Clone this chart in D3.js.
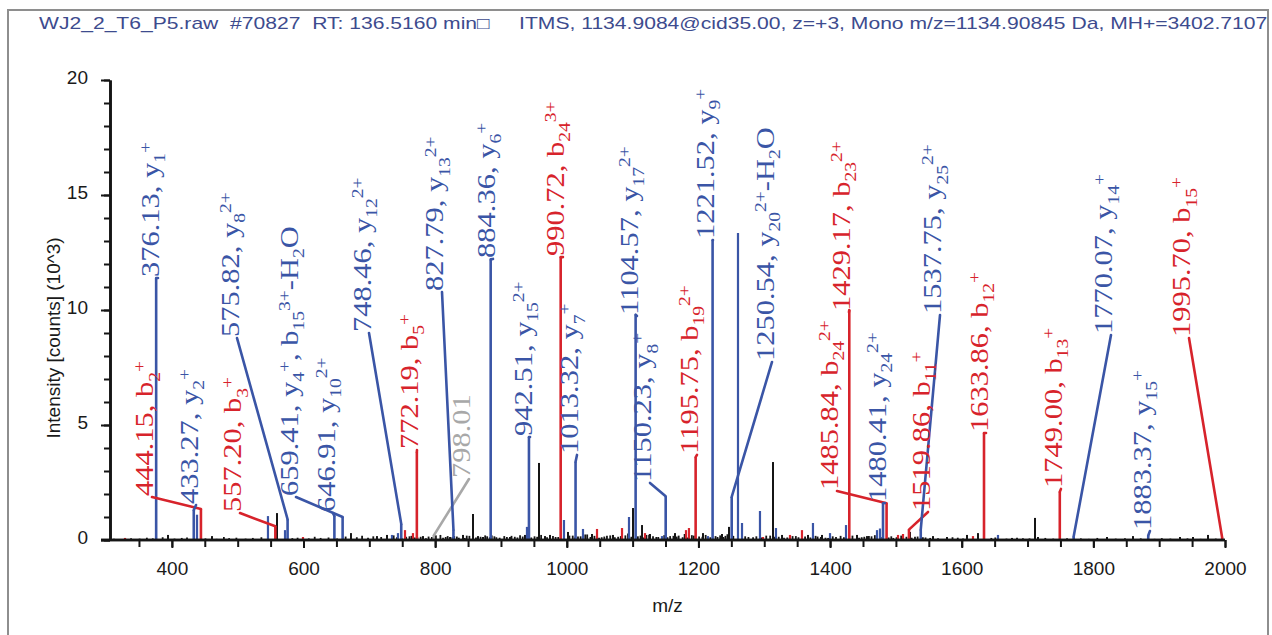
<!DOCTYPE html>
<html>
<head>
<meta charset="utf-8">
<script src="https://cdn.jsdelivr.net/npm/d3@7"></script>
<style>
  body { margin: 0; background: #fff; }
  svg { display: block; }
</style>
</head>
<body>
<svg id="chart" width="1272" height="635"></svg>
<script>
// ---------------- DATA ----------------
const titleText = "WJ2_2_T6_P5.raw  #70827  RT: 136.5160 min\u25A1     ITMS, 1134.9084@cid35.00, z=+3, Mono m/z=1134.90845 Da, MH+=3402.71079";
const xAxisTitle = "m/z";
const yAxisTitle = "Intensity [counts] (10^3)";
const xTickLabels = [400, 600, 800, 1000, 1200, 1400, 1600, 1800, 2000];
const yTickLabels = [0, 5, 10, 15, 20];

// annotated fragment ions
const ionMz = [376.13, 444.15, 433.27, 557.20, 575.82, 659.41, 646.91, 748.46, 772.19, 798.01,
  827.79, 884.36, 942.51, 990.72, 1013.32, 1104.57, 1150.23, 1195.75, 1221.52, 1250.54,
  1429.17, 1485.84, 1480.41, 1519.86, 1537.75, 1633.86, 1749.00, 1770.07, 1883.37, 1995.70];
const ionIntensity = [11.39, 1.35, 1.30, 0.60, 0.90, 1.00, 1.05, 0.70, 3.83, 0.20,
  0.45, 12.20, 4.48, 12.30, 3.40, 9.80, 1.90, 3.60, 13.04, 1.87,
  10.00, 1.60, 1.60, 0.45, 0.45, 4.65, 2.10, 0.15, 0.20, 0.10];
const ionKind = ['y','b','y','b','y','y','y','y','b','u',
  'y','y','y','b','y','y','y','b','y','y',
  'b','b','y','b','y','b','b','y','y','b'];
const ionLabel = ["376.13, y_{1}^{+}", "444.15, b_{2}^{+}", "433.27, y_{2}^{+}", "557.20, b_{3}^{+}",
  "575.82, y_{8}^{2+}", "659.41, y_{4}^{+}, b_{15}^{3+}-H_{2}O", "646.91, y_{10}^{2+}",
  "748.46, y_{12}^{2+}", "772.19, b_{5}^{+}", "798.01", "827.79, y_{13}^{2+}", "884.36, y_{6}^{+}",
  "942.51, y_{15}^{2+}", "990.72, b_{24}^{3+}", "1013.32, y_{7}^{+}", "1104.57, y_{17}^{2+}",
  "1150.23, y_{8}^{+}", "1195.75, b_{19}^{2+}", "1221.52, y_{9}^{+}", "1250.54, y_{20}^{2+}-H_{2}O",
  "1429.17, b_{23}^{2+}", "1485.84, b_{24}^{2+}", "1480.41, y_{24}^{2+}", "1519.86, b_{11}^{+}",
  "1537.75, y_{25}^{2+}", "1633.86, b_{12}^{+}", "1749.00, b_{13}^{+}", "1770.07, y_{14}^{+}",
  "1883.37, y_{15}^{+}", "1995.70, b_{15}^{+}"];
// where each label starts (in data units, m/z and intensity)
const labelMz = [378.9, 369.8, 436.7, 503.5, 499.0, 588.6, 644.8, 699.5, 772.4, 851.4,
  810.4, 887.9, 944.1, 994.2, 1015.5, 1106.6, 1126.4, 1197.8, 1222.1, 1311.8,
  1428.7, 1410.5, 1483.4, 1548.8, 1567.0, 1636.9, 1750.8, 1826.8, 1886.0, 1945.3];
const labelIntensity = [11.39, 1.87, 1.52, 1.17, 8.78, 1.87, 1.17, 9.00, 3.91, 2.65,
  10.78, 12.22, 4.48, 12.30, 3.70, 9.74, 2.48, 3.70, 13.04, 7.74,
  9.91, 2.13, 1.61, 1.22, 9.78, 4.65, 2.22, 8.91, 0.39, 8.78];

// unannotated peaks
const blackMz = [394.1, 461.0, 559.7, 672.1, 711.6, 726.8, 781.5, 801.0, 822.6, 842.3, 857.5, 865.1,
  872.7, 913.7, 936.5, 957.8, 966.9, 974.5, 1001.8, 1038.3, 1070.2, 1100.6, 1114.3, 1126.4,
  1164.4, 1206.9, 1235.8, 1246.4, 1313.3, 1327.0, 1366.5, 1387.7, 1440.9, 1456.1, 1521.4,
  1556.4, 1577.6, 1608.0, 1624.7, 1676.4, 1711.3, 1715.9, 1820.7, 1860.2, 1931.6, 1951.4, 1974.2];
const blackIntensity = [0.22, 0.17, 1.17, 0.30, 0.17, 0.22, 0.17, 0.20, 0.13, 0.22, 1.13, 0.17,
  0.13, 0.13, 0.22, 3.35, 0.17, 0.22, 0.35, 0.26, 0.22, 1.39, 0.65, 0.26,
  0.30, 0.30, 0.26, 0.57, 3.39, 0.22, 0.22, 0.22, 0.22, 0.17, 0.35,
  0.17, 0.13, 0.22, 0.30, 0.09, 0.96, 0.13, 0.13, 0.17, 0.13, 0.13, 0.22];
const blueMz = [438.2, 546.0, 571.9, 734.4, 743.5, 939.5, 995.7, 1024.6, 1094.5, 1144.6, 1214.5,
  1260.1, 1266.2, 1293.5, 1317.8, 1374.0, 1399.9, 1424.2, 1471.3, 1475.8, 1655.1];
const blueIntensity = [1.10, 1.04, 0.43, 0.22, 0.30, 0.57, 0.87, 0.48, 1.00, 0.17, 0.17,
  13.35, 0.74, 1.26, 0.52, 0.74, 0.30, 0.65, 0.43, 0.50, 0.22];
const redMz = [328.8, 599.2, 754.2, 766.3, 1045.9, 1083.9, 1118.8, 1181.1, 1185.6, 1298.1,
  1339.1, 1357.3, 1503.2, 1510.8, 1617.1];
const redIntensity = [0.09, 0.13, 0.43, 0.30, 0.48, 0.52, 0.30, 0.43, 0.52, 0.13,
  0.22, 0.43, 0.22, 0.26, 0.17];
const noiseMz = [312, 338, 351, 362, 371, 386, 404, 415, 423, 451,
  468, 479, 487, 498, 512, 523, 536, 583, 591, 608,
  617, 626, 638, 651, 664, 681, 689, 698, 706, 718,
  737, 756, 764, 773, 790, 808, 816, 829, 836, 848,
  879, 886, 893, 905, 921, 929, 946, 951, 983, 1009,
  1017, 1031, 1053, 1061, 1078, 1089, 1108, 1121, 1139, 1157,
  1170, 1176, 1190, 1201, 1229, 1241, 1271, 1283, 1303, 1322,
  1335, 1348, 1381, 1393, 1409, 1416, 1448, 1463, 1496, 1529,
  1545, 1564, 1586, 1594, 1602, 1645, 1651, 1668, 1684, 1693,
  1703, 1727, 1739, 1760, 1781, 1793, 1806, 1834, 1848, 1872,
  1893, 1904, 1917, 1943, 1963, 1986];
const noiseIntensity = [0.05, 0.08, 0.06, 0.10, 0.07, 0.12, 0.06, 0.09, 0.11, 0.07,
  0.05, 0.13, 0.08, 0.10, 0.06, 0.09, 0.12, 0.08, 0.10, 0.07,
  0.14, 0.09, 0.11, 0.06, 0.15, 0.12, 0.18, 0.10, 0.16, 0.13,
  0.20, 0.14, 0.18, 0.12, 0.15, 0.22, 0.13, 0.17, 0.10, 0.19,
  0.16, 0.20, 0.12, 0.17, 0.14, 0.21, 0.11, 0.16, 0.13, 0.19,
  0.15, 0.24, 0.12, 0.18, 0.14, 0.20, 0.16, 0.22, 0.13, 0.17,
  0.19, 0.12, 0.21, 0.15, 0.13, 0.18, 0.16, 0.12, 0.19, 0.14,
  0.11, 0.17, 0.15, 0.10, 0.13, 0.18, 0.12, 0.16, 0.09, 0.14,
  0.11, 0.08, 0.12, 0.10, 0.07, 0.09, 0.11, 0.06, 0.10, 0.08,
  0.07, 0.09, 0.06, 0.08, 0.07, 0.05, 0.09, 0.06, 0.08, 0.07,
  0.05, 0.08, 0.06, 0.07, 0.05, 0.06];
const noise2Mz = [742, 749, 761, 769, 778, 786, 795, 812, 819, 826,
  833, 845, 852, 862, 869, 876, 883, 890, 898, 909,
  916, 925, 933, 941, 955, 961, 970, 979, 987, 1004,
  1012, 1021, 1028, 1036, 1042, 1049, 1057, 1066, 1073, 1082,
  1093, 1098, 1112, 1117, 1125, 1131, 1136, 1148, 1153, 1162,
  1167, 1179, 1184, 1193, 1206, 1211, 1218, 1226, 1233, 1238,
  1244, 1253, 1276, 1288, 1296, 1309, 1316, 1330, 1343, 1352,
  1362, 1370, 1378, 1386, 1397, 1404, 1421, 1434, 1444, 1452,
  1459, 1468, 1477, 1489, 1493, 1501, 1508, 1516, 1524, 1533,
  1541, 1552];
const noise2Intensity = [0.12, 0.09, 0.16, 0.11, 0.14, 0.08, 0.13, 0.10, 0.17, 0.12,
  0.15, 0.09, 0.18, 0.11, 0.14, 0.20, 0.12, 0.16, 0.10, 0.13,
  0.18, 0.11, 0.15, 0.09, 0.14, 0.22, 0.12, 0.17, 0.13, 0.19,
  0.11, 0.16, 0.24, 0.13, 0.18, 0.10, 0.15, 0.20, 0.12, 0.17,
  0.28, 0.14, 0.19, 0.11, 0.23, 0.16, 0.13, 0.21, 0.12, 0.18,
  0.15, 0.26, 0.11, 0.19, 0.14, 0.22, 0.12, 0.17, 0.20, 0.13,
  0.25, 0.18, 0.13, 0.16, 0.11, 0.19, 0.14, 0.10, 0.17, 0.12,
  0.15, 0.11, 0.18, 0.13, 0.09, 0.16, 0.12, 0.19, 0.10, 0.14,
  0.17, 0.21, 0.13, 0.11, 0.16, 0.12, 0.19, 0.14, 0.10, 0.15,
  0.12, 0.09];

// ---------------- DRAW ----------------
const BLUE = "#3a55a6", RED = "#d7232b", GREY = "#a8a8a8", INK = "#151515";
const kindColor = { y: BLUE, b: RED, u: GREY };

const svg = d3.select("#chart");
svg.append("rect").attr("width", 1272).attr("height", 635).attr("fill", "#fff");

// frame
svg.append("rect").attr("x", 8).attr("y", 10).attr("width", 1260).attr("height", 640)
  .attr("fill", "none").attr("stroke", "#8e8e8e").attr("stroke-width", 2);

// title (clipped by the frame)
svg.append("clipPath").attr("id", "frameClip").append("rect")
  .attr("x", 9).attr("y", 11).attr("width", 1258).attr("height", 620);
svg.append("text")
  .attr("clip-path", "url(#frameClip)")
  .attr("x", 39).attr("y", 29)
  .attr("font-family", "'Liberation Sans', Arial, sans-serif")
  .attr("font-size", 17)
  .attr("fill", "#3d4b8e")
  .attr("textLength", 1240).attr("lengthAdjust", "spacingAndGlyphs")
  .style("white-space", "pre")
  .text(titleText);

const x = d3.scaleLinear().domain([306, 2000]).range([110, 1225]);
const y = d3.scaleLinear().domain([0, 20]).range([540, 80]);

const plot = svg.append("g");

function drawPeaks(mzs, ints, color, w) {
  plot.append("g").selectAll("line").data(d3.zip(mzs, ints)).join("line")
    .attr("x1", d => x(d[0])).attr("x2", d => x(d[0]))
    .attr("y1", y(0)).attr("y2", d => y(d[1]))
    .attr("stroke", color).attr("stroke-width", w);
}
drawPeaks(noiseMz, noiseIntensity, INK, 1.8);
drawPeaks(noise2Mz, noise2Intensity, INK, 1.8);
drawPeaks(blackMz, blackIntensity, INK, 2);
drawPeaks(redMz, redIntensity, RED, 2.2);
drawPeaks(blueMz, blueIntensity, BLUE, 2.2);

const ions = ionMz.map((mz, i) => ({
  mz, int: ionIntensity[i], kind: ionKind[i], label: ionLabel[i],
  lmz: labelMz[i], lint: labelIntensity[i]
}));

// ion sticks
plot.append("g").selectAll("line").data(ions).join("line")
  .attr("x1", d => x(d.mz)).attr("x2", d => x(d.mz))
  .attr("y1", y(0)).attr("y2", d => y(d.int))
  .attr("stroke", d => kindColor[d.kind]).attr("stroke-width", 2.6);

// leader lines
plot.append("g").selectAll("line").data(ions).join("line")
  .attr("x1", d => x(d.mz)).attr("y1", d => y(d.int))
  .attr("x2", d => x(d.lmz)).attr("y2", d => y(d.lint))
  .attr("stroke", d => kindColor[d.kind]).attr("stroke-width", 2.6)
  .attr("stroke-linecap", "round");

// axes
const axisFont = "'Liberation Sans', Arial, sans-serif";
const yMinor = d3.axisLeft(y).tickValues(d3.range(0, 21)).tickSize(6).tickSizeOuter(0).tickFormat("");
const yMajor = d3.axisLeft(y).tickValues(yTickLabels).tickSize(9).tickSizeOuter(0).tickPadding(13).tickFormat(d3.format("d"));
const xMinor = d3.axisBottom(x).tickValues(d3.range(350, 2001, 50)).tickSize(7).tickSizeOuter(0).tickFormat("");
const xMajor = d3.axisBottom(x).tickValues(xTickLabels).tickSize(8).tickSizeOuter(0).tickPadding(14).tickFormat(d3.format("d"));

function styleAxis(g) {
  g.select(".domain").attr("stroke", INK).attr("stroke-width", 2.6);
  g.selectAll(".tick line").attr("stroke", INK).attr("stroke-width", 2);
  g.selectAll(".tick text").attr("font-family", axisFont).attr("font-size", 19).attr("fill", "#1a1a1a");
}
const gx = svg.append("g").attr("transform", `translate(0,${y(0)})`);
gx.append("g").call(xMinor).call(styleAxis);
gx.append("g").call(xMajor).call(styleAxis);
gx.selectAll(".domain").attr("d", `M${x.range()[0] - 9},0H${x.range()[1]}`);

const gy = svg.append("g").attr("transform", `translate(${x.range()[0]},0)`);
gy.append("g").call(yMinor).call(styleAxis);
gy.append("g").call(yMajor).call(styleAxis);
gy.selectAll(".tick text").attr("dy", "0.18em");

// axis titles
svg.append("text")
  .attr("transform", `translate(60,338) rotate(-90)`)
  .attr("text-anchor", "middle")
  .attr("font-family", axisFont).attr("font-size", 19).attr("fill", "#1a1a1a")
  .text(yAxisTitle);
svg.append("text")
  .attr("x", (x.range()[0] + x.range()[1]) / 2).attr("y", 612)
  .attr("text-anchor", "middle")
  .attr("font-family", axisFont).attr("font-size", 19).attr("fill", "#1a1a1a")
  .text(xAxisTitle);

// ion labels (rotated, with sub/superscripts)
function parseLabel(s) {
  const re = /_\{([^}]*)\}|\^\{([^}]*)\}|([^_^]+)/g;
  const out = []; let m;
  while ((m = re.exec(s))) {
    if (m[1] !== undefined) out.push({ t: m[1], k: "sub" });
    else if (m[2] !== undefined) out.push({ t: m[2], k: "sup" });
    else out.push({ t: m[3], k: "n" });
  }
  return out;
}
const shiftFor = { n: 0, sub: 6, sup: -8 };
const sizeFor = { n: 25, sub: 16, sup: 16 };

const labels = svg.append("g");
ions.forEach(d => {
  const t = labels.append("text")
    .attr("transform", `translate(${x(d.lmz) + 1.5},${y(d.lint) - 1}) rotate(-90) scale(1.22,1)`)
    .attr("font-family", "'Liberation Serif', 'Times New Roman', serif")
    .attr("fill", kindColor[d.kind])
    .style("white-space", "pre");
  let cur = 0;
  parseLabel(d.label).forEach(p => {
    const target = shiftFor[p.k];
    t.append("tspan").attr("dy", target - cur).attr("font-size", sizeFor[p.k]).text(p.t);
    cur = target;
  });
});
</script>
</body>
</html>
